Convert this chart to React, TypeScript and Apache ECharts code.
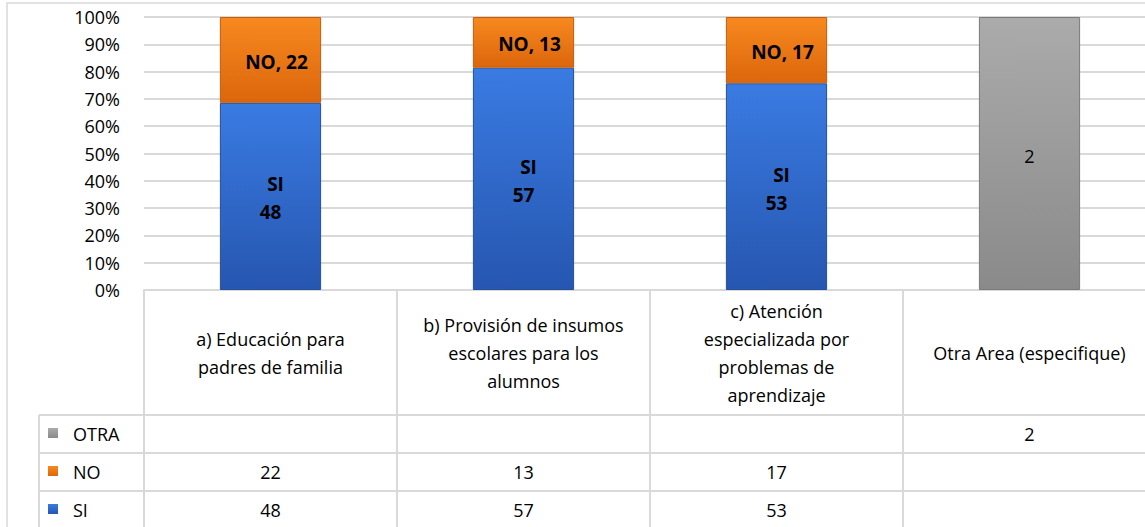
import React, { useEffect, useRef } from 'react';
import * as echarts from 'echarts';

const categories = [
  'a) Educación para\npadres de familia',
  'b) Provisión de insumos\nescolares para los\nalumnos',
  'c) Atención\nespecializada por\nproblemas de\naprendizaje',
  'Otra Area (especifique)',
];
const siValues: (number | null)[] = [48, 57, 53, null];
const noValues: (number | null)[] = [22, 13, 17, null];
const otraValues: (number | null)[] = [null, null, null, 2];
const seriesNames = ['SI', 'NO', 'OTRA'];
const yTickMax = 100;
const yTickStep = 10;

const FONT = 'Open Sans';
const GRID_COLOR = '#d9d9d9';
const TXT = 18;

const blueFill = new echarts.graphic.LinearGradient(0, 0, 0, 1, [
  { offset: 0, color: '#3a7be2' },
  { offset: 1, color: '#2656b0' },
]);
const orangeFill = new echarts.graphic.LinearGradient(0, 0, 0, 1, [
  { offset: 0, color: '#f7891f' },
  { offset: 1, color: '#dc660c' },
]);
const grayFill = new echarts.graphic.LinearGradient(0, 0, 0, 1, [
  { offset: 0, color: '#ababab' },
  { offset: 1, color: '#8a8a8a' },
]);

export default function App() {
  const ref = useRef<HTMLDivElement>(null);

  useEffect(() => {
    if (!ref.current) return;
    const chart = echarts.init(ref.current, undefined, { renderer: 'svg' });

    const totals = categories.map(
      (_, i) => (siValues[i] || 0) + (noValues[i] || 0) + (otraValues[i] || 0)
    );
    const pct = (arr: (number | null)[]) =>
      arr.map((v, i) => (v == null ? null : { value: (v / totals[i]) * 100, raw: v }));

    chart.setOption({
      animation: false,
      textStyle: { fontFamily: FONT },
      grid: {
        left: 144,
        top: 17,
        height: 273,
        width: 1012,
        containLabel: false,
        outerBoundsMode: 'none',
      },
      xAxis: {
        type: 'category',
        data: categories,
        axisLine: { show: true, lineStyle: { color: GRID_COLOR, width: 2 } },
        axisTick: { show: false },
        axisLabel: {
          interval: 0,
          margin: 63,
          verticalAlign: 'middle',
          fontSize: TXT,
          lineHeight: 28,
          color: '#000',
          fontFamily: FONT,
        },
      },
      yAxis: {
        type: 'value',
        min: 0,
        max: yTickMax,
        interval: yTickStep,
        axisLine: { show: false },
        axisTick: { show: false },
        splitLine: { lineStyle: { color: GRID_COLOR, width: 2 } },
        axisLabel: {
          formatter: '{value}%',
          fontSize: TXT,
          color: '#000',
          margin: 24,
          fontFamily: FONT,
        },
      },
      series: [
        {
          name: seriesNames[0],
          type: 'bar',
          stack: 'total',
          barWidth: '40%',
          data: pct(siValues),
          itemStyle: { color: blueFill, borderColor: '#22509f', borderWidth: 1 },
          label: {
            show: true,
            position: 'inside',
            offset: [0, 2],
            formatter: (p: any) => `{a|${p.seriesName}}\n{b|${p.data.raw}}`,
            rich: {
              a: { fontSize: 19, fontWeight: 'bold', color: '#000', lineHeight: 28, padding: [0, 0, 0, 10], fontFamily: FONT },
              b: { fontSize: 19, fontWeight: 'bold', color: '#000', lineHeight: 28, fontFamily: FONT },
            },
          },
        },
        {
          name: seriesNames[1],
          type: 'bar',
          stack: 'total',
          barWidth: '40%',
          data: pct(noValues),
          itemStyle: { color: orangeFill, borderColor: '#c85c0a', borderWidth: 1 },
          label: {
            show: true,
            position: 'inside',
            offset: [6, 2],
            fontSize: 19,
            fontWeight: 'bold',
            color: '#000',
            fontFamily: FONT,
            formatter: (p: any) => `${p.seriesName}, ${p.data.raw}`,
          },
        },
        {
          name: seriesNames[2],
          type: 'bar',
          stack: 'total',
          barWidth: '40%',
          data: pct(otraValues),
          itemStyle: { color: grayFill, borderColor: '#7a7a7a', borderWidth: 1 },
          label: {
            show: true,
            position: 'inside',
            offset: [0, 2],
            fontSize: TXT,
            color: '#000',
            fontFamily: FONT,
            formatter: (p: any) => `${p.data.raw}`,
          },
        },
      ],
    });

    const centers = categories.map((_, i) => chart.convertToPixel({ xAxisIndex: 0 }, i) as number);
    const band = centers[1] - centers[0];
    const tableTop = 290;
    const headerBottom = 415;
    const rowH = 38;
    const rows = [
      { name: seriesNames[2], values: otraValues, fill: grayFill },
      { name: seriesNames[1], values: noValues, fill: orangeFill },
      { name: seriesNames[0], values: siValues, fill: blueFill },
    ];
    const bottom = 560;
    const line = (x1: number, y1: number, x2: number, y2: number) => ({
      type: 'line',
      shape: { x1, y1, x2, y2 },
      style: { stroke: GRID_COLOR, lineWidth: 2 },
      silent: true,
    });
    const els: any[] = [];
    els.push({
      type: 'rect',
      shape: { x: 7, y: 3, width: 1300, height: 700 },
      style: { fill: 'none', stroke: GRID_COLOR, lineWidth: 1.5 },
      silent: true,
    });
    centers.forEach((c) => {
      els.push(line(c - band / 2, tableTop, c - band / 2, bottom));
    });
    els.push(line(centers[3] + band / 2, tableTop, centers[3] + band / 2, bottom));
    els.push(line(39, headerBottom, 39, bottom));
    rows.forEach((r, ri) => {
      const y0 = headerBottom + ri * rowH;
      els.push(line(39, y0, 1300, y0));
      const cy = y0 + rowH / 2;
      els.push({
        type: 'rect',
        shape: { x: 48, y: cy - 6, width: 10, height: 10 },
        style: { fill: r.fill },
        silent: true,
      });
      els.push({
        type: 'text',
        x: 73,
        y: cy,
        style: { text: r.name, fontSize: TXT, fill: '#000', fontFamily: FONT, verticalAlign: 'middle', align: 'left' },
        silent: true,
      });
      r.values.forEach((v, i) => {
        if (v == null) return;
        els.push({
          type: 'text',
          x: centers[i],
          y: cy,
          style: { text: String(v), fontSize: TXT, fill: '#000', fontFamily: FONT, verticalAlign: 'middle', align: 'center' },
          silent: true,
        });
      });
    });
    els.push(line(39, headerBottom + rows.length * rowH, 1300, headerBottom + rows.length * rowH));
    chart.setOption({ graphic: els });

    return () => chart.dispose();
  }, []);

  return (
    <div
      ref={ref}
      style={{ position: 'fixed', left: 0, top: 0, width: 1145, height: 527, background: '#fff' }}
    />
  );
}
